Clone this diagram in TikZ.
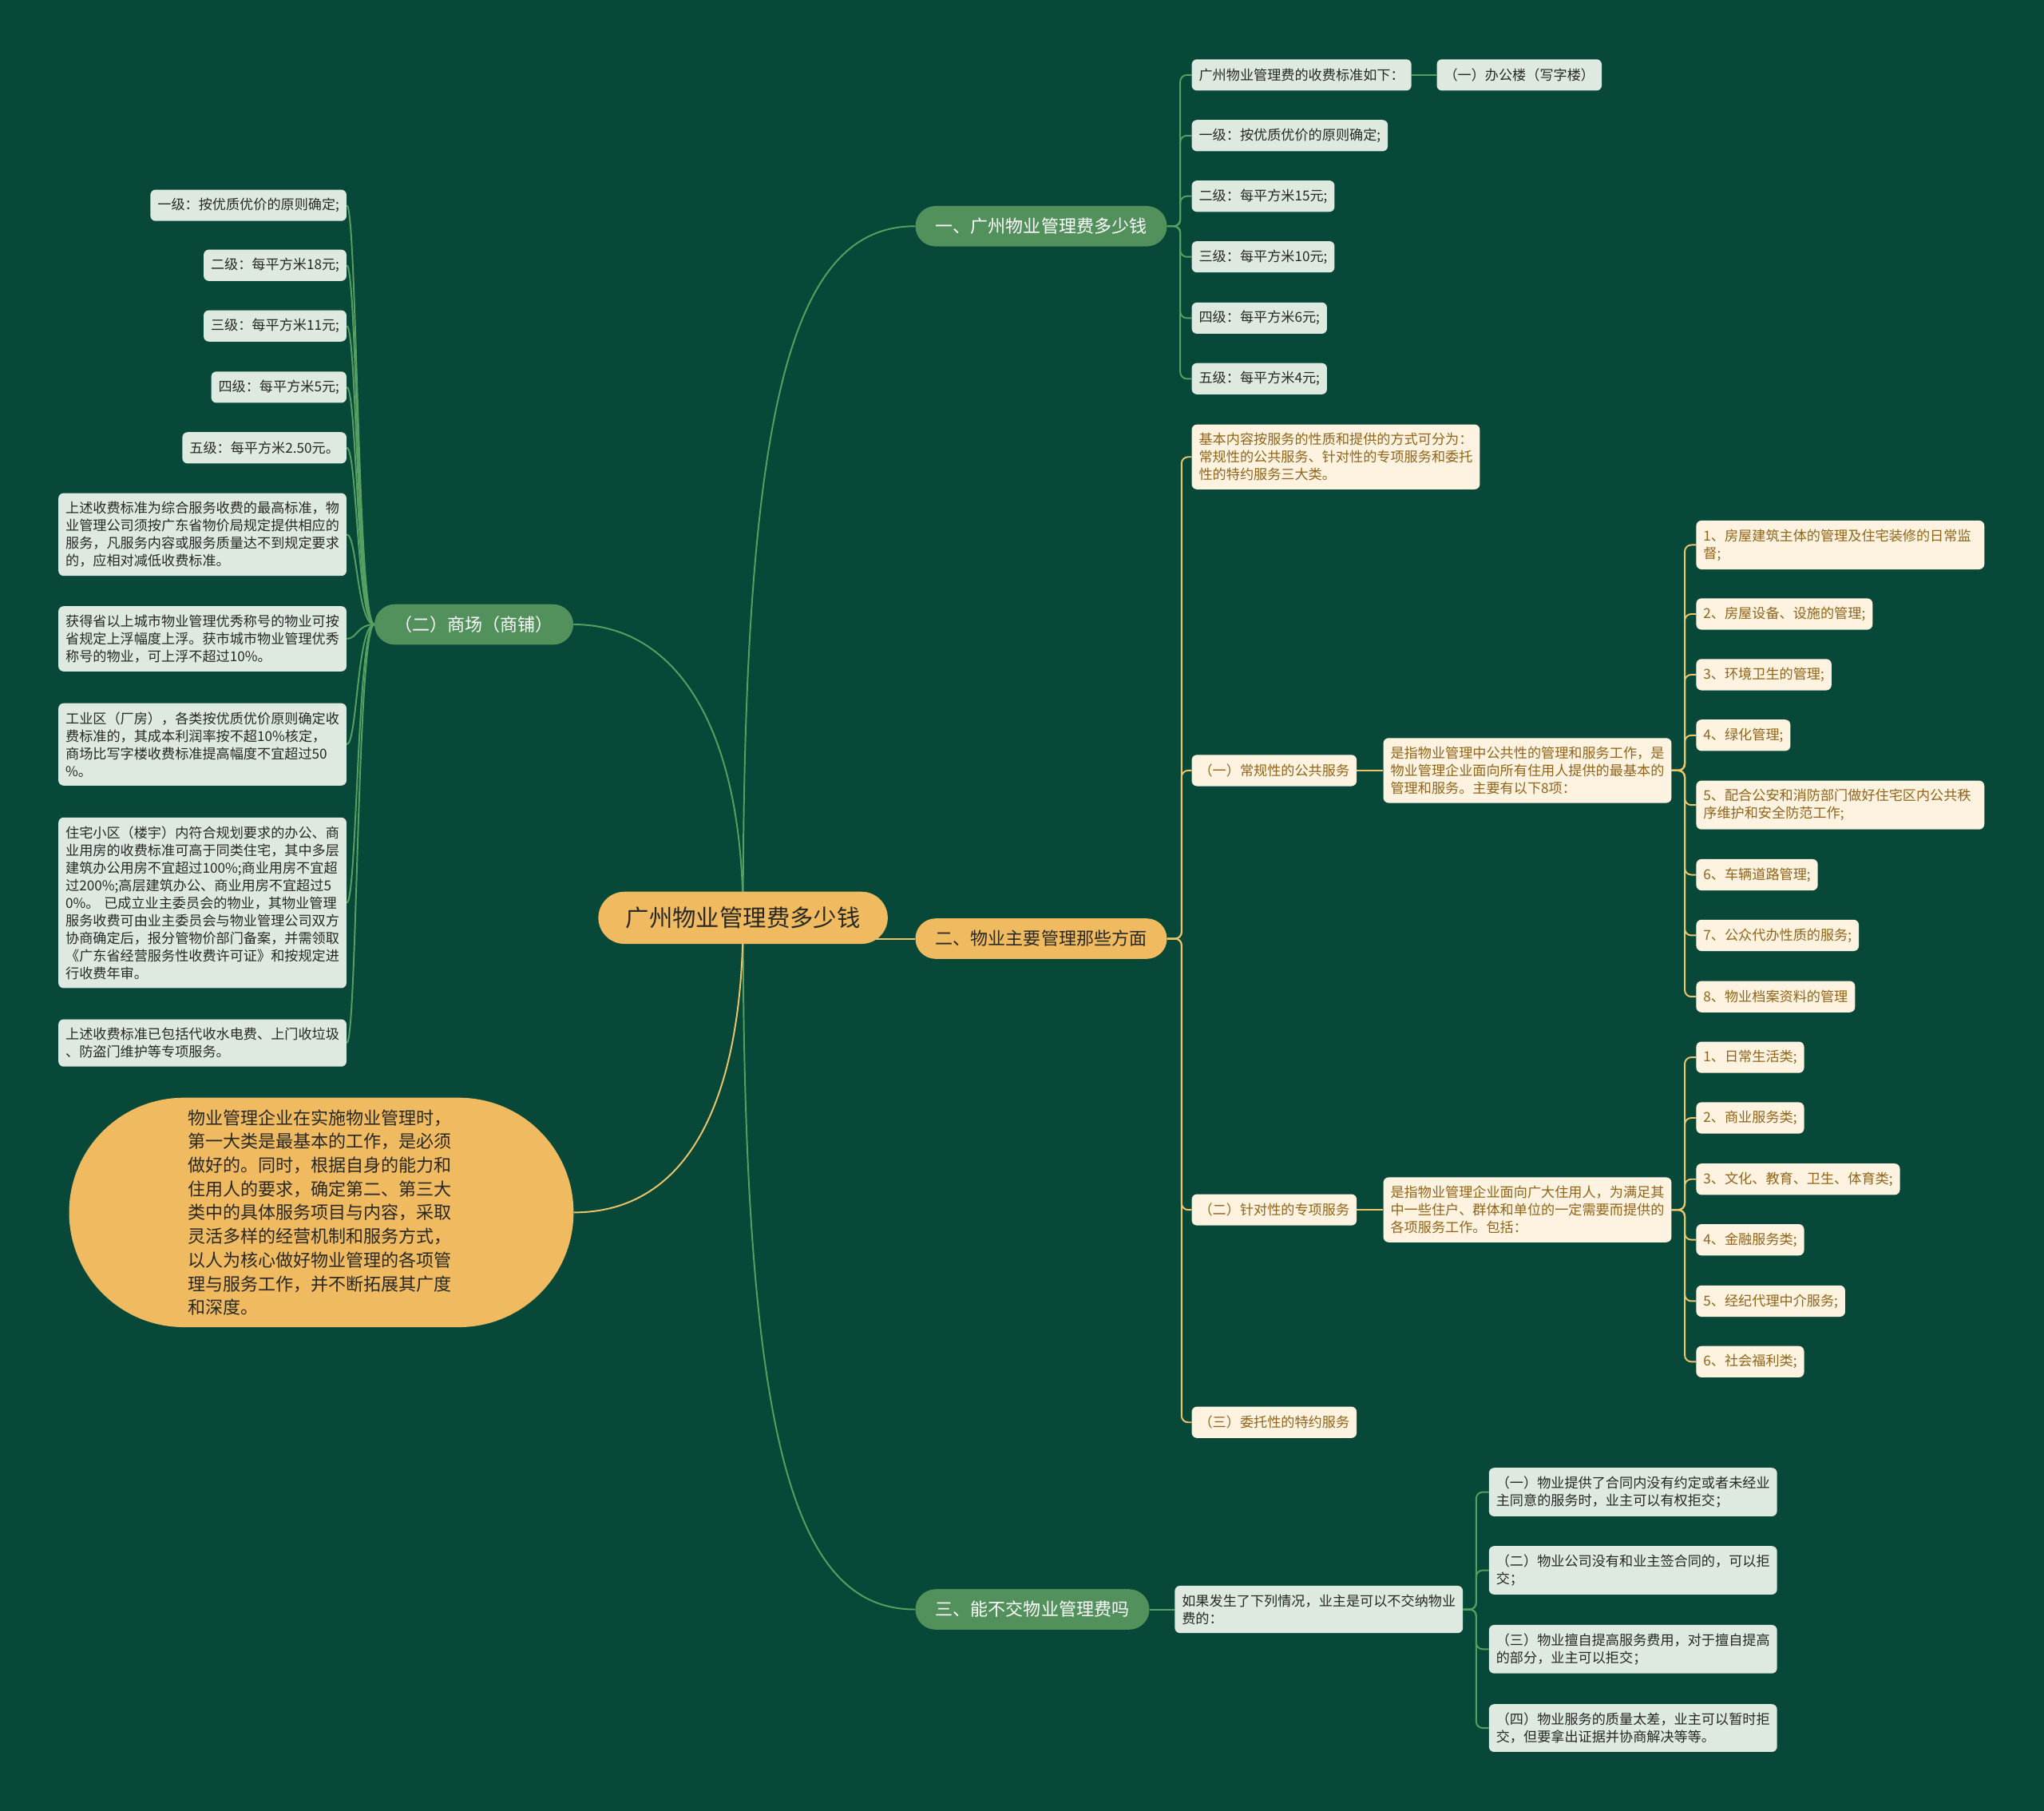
\documentclass[tikz,border=0pt]{standalone}
\usepackage{fontspec}
\setmainfont{Noto Sans CJK SC}

\definecolor{sfondo}{RGB}{7,72,56}
\definecolor{verdepill}{RGB}{82,145,92}
\definecolor{lineaverde}{RGB}{88,158,98}
\definecolor{arancio}{RGB}{240,186,96}
\definecolor{lineaarancio}{RGB}{236,196,108}
\definecolor{grigioch}{RGB}{222,234,224}
\definecolor{crema}{RGB}{253,243,224}
\definecolor{marrone}{RGB}{145,100,25}
\definecolor{testoscuro}{RGB}{40,40,36}

\pgfdeclarelayer{fondo}
\pgfdeclarelayer{linee}
\pgfsetlayers{fondo,linee,main}

\begin{document}
\begin{tikzpicture}[
  x=1pt, y=-1pt,
  radice/.style={fill=arancio, text=testoscuro, rounded corners=20pt,
    minimum width=222pt, minimum height=40pt, font=\fontsize{18}{22}\selectfont},
  ramoverde/.style={fill=verdepill, text=white, rounded corners=15.5pt,
    minimum height=31pt, inner xsep=15.5pt, font=\fontsize{13.5}{16}\selectfont},
  ramoarancio/.style={ramoverde, fill=arancio, text=testoscuro},
  foglia/.style={fill=grigioch, text=testoscuro, rounded corners=4pt,
    minimum height=24pt, inner xsep=5.5pt, inner ysep=6.5pt, align=left,
    font=\fontsize{10.5}{13.5}\selectfont},
  fogliacrema/.style={foglia, fill=crema, text=marrone},
  largo/.style={text width=210pt},
  filoverde/.style={draw=lineaverde, line width=1.2pt},
  filoarancio/.style={draw=lineaarancio, line width=1.2pt}
]

%--------------------------------------------------------------
% Sfondo
%--------------------------------------------------------------
\begin{pgfonlayer}{fondo}
  \fill[sfondo] (0,0) rectangle (1568,1389);
\end{pgfonlayer}
\useasboundingbox (0,0) rectangle (1568,1389);

%--------------------------------------------------------------
% Nodo centrale e rami principali
%--------------------------------------------------------------
\node[radice] (radice) at (570,704) {广州物业管理费多少钱};

\node[ramoverde, anchor=west] (ra) at (702,173.5) {一、广州物业管理费多少钱};
\node[ramoarancio, anchor=west] (rb) at (702,720) {二、物业主要管理那些方面};
\node[ramoverde, anchor=west] (rc) at (702,1234.5) {三、能不交物业管理费吗};
\node[ramoverde, anchor=east] (rd) at (440,479) {（二）商场（商铺）};

\node[fill=arancio, text=testoscuro, rounded corners=88pt, minimum width=387pt,
      minimum height=176pt, text width=205pt, align=left,
      font=\fontsize{13.5}{18.2}\selectfont] (re) at (246.5,930)
  {物业管理企业在实施物业管理时，\\第一大类是最基本的工作，是必须\\做好的。同时，根据自身的能力和\\
   住用人的要求，确定第二、第三大\\类中的具体服务项目与内容，采取\\灵活多样的经营机制和服务方式，\\
   以人为核心做好物业管理的各项管\\理与服务工作，并不断拓展其广度\\和深度。};

%--------------------------------------------------------------
% Ramo uno:收费标准
%--------------------------------------------------------------
\node[foglia, anchor=west] (a0) at (914,57.5) {广州物业管理费的收费标准如下：};
\node[foglia, anchor=west] (a0x) at (1102,57.5) {（一）办公楼（写字楼）};
\node[foglia, anchor=west] (a1) at (914,104) {一级：按优质优价的原则确定;};
\node[foglia, anchor=west] (a2) at (914,150.5) {二级：每平方米15元;};
\node[foglia, anchor=west] (a3) at (914,197) {三级：每平方米10元;};
\node[foglia, anchor=west] (a4) at (914,244) {四级：每平方米6元;};
\node[foglia, anchor=west] (a5) at (914,290.5) {五级：每平方米4元;};

%--------------------------------------------------------------
%商场（商铺）: foglie a sinistra
%--------------------------------------------------------------
\node[foglia, anchor=east] (m1) at (266,157.5) {一级：按优质优价的原则确定;};
\node[foglia, anchor=east] (m2) at (266,203.5) {二级：每平方米18元;};
\node[foglia, anchor=east] (m3) at (266,250) {三级：每平方米11元;};
\node[foglia, anchor=east] (m4) at (266,297) {四级：每平方米5元;};
\node[foglia, anchor=east] (m5) at (266,343.5) {五级：每平方米2.50元。};
\node[foglia, largo, anchor=east] (m6) at (266,410)
  {上述收费标准为综合服务收费的最高标准，物\\业管理公司须按广东省物价局规定提供相应的\\
   服务，凡服务内容或服务质量达不到规定要求\\的，应相对减低收费标准。};
\node[foglia, largo, anchor=east] (m7) at (266,490)
  {获得省以上城市物业管理优秀称号的物业可按\\省规定上浮幅度上浮。获市城市物业管理优秀\\
   称号的物业，可上浮不超过10\%。};
\node[foglia, largo, anchor=east] (m8) at (266,571)
  {工业区（厂房），各类按优质优价原则确定收\\费标准的，其成本利润率按不超10\%核定，\\
   商场比写字楼收费标准提高幅度不宜超过50\\\%。};
\node[foglia, largo, anchor=east] (m9) at (266,692.5)
  {住宅小区（楼宇）内符合规划要求的办公、商\\业用房的收费标准可高于同类住宅，其中多层\\
   建筑办公用房不宜超过100\%;商业用房不宜超\\过200\%;高层建筑办公、商业用房不宜超过5\\
   0\%。 已成立业主委员会的物业，其物业管理\\服务收费可由业主委员会与物业管理公司双方\\
   协商确定后，报分管物价部门备案，并需领取\\《广东省经营服务性收费许可证》和按规定进\\行收费年审。};
\node[foglia, largo, anchor=east] (m10) at (266,800)
  {上述收费标准已包括代收水电费、上门收垃圾\\、防盗门维护等专项服务。};

%--------------------------------------------------------------
% Ramo due: 管理方面
%--------------------------------------------------------------
\node[fogliacrema, largo, anchor=west] (b0) at (914,350.5)
  {基本内容按服务的性质和提供的方式可分为：\\常规性的公共服务、针对性的专项服务和委托\\性的特约服务三大类。};
\node[fogliacrema, anchor=west] (b1) at (914,591) {（一）常规性的公共服务};
\node[fogliacrema, anchor=west] (b2) at (914,928) {（二）针对性的专项服务};
\node[fogliacrema, anchor=west] (b3) at (914,1091) {（三）委托性的特约服务};

\node[fogliacrema, largo, anchor=west] (b1c) at (1061,591)
  {是指物业管理中公共性的管理和服务工作，是\\物业管理企业面向所有住用人提供的最基本的\\管理和服务。主要有以下8项：};
\node[fogliacrema, largo, anchor=west] (b2c) at (1061,928)
  {是指物业管理企业面向广大住用人，为满足其\\中一些住户、群体和单位的一定需要而提供的\\各项服务工作。包括：};

\node[fogliacrema, largo, anchor=west] (g1) at (1301,418)
  {1、房屋建筑主体的管理及住宅装修的日常监\\督;};
\node[fogliacrema, anchor=west] (g2) at (1301,471) {2、房屋设备、设施的管理;};
\node[fogliacrema, anchor=west] (g3) at (1301,517.5) {3、环境卫生的管理;};
\node[fogliacrema, anchor=west] (g4) at (1301,564) {4、绿化管理;};
\node[fogliacrema, largo, anchor=west] (g5) at (1301,617.5)
  {5、配合公安和消防部门做好住宅区内公共秩\\序维护和安全防范工作;};
\node[fogliacrema, anchor=west] (g6) at (1301,671) {6、车辆道路管理;};
\node[fogliacrema, anchor=west] (g7) at (1301,717.5) {7、公众代办性质的服务;};
\node[fogliacrema, anchor=west] (g8) at (1301,764.5) {8、物业档案资料的管理};

\node[fogliacrema, anchor=west] (s1) at (1301,811) {1、日常生活类;};
\node[fogliacrema, anchor=west] (s2) at (1301,857.5) {2、商业服务类;};
\node[fogliacrema, anchor=west] (s3) at (1301,904.5) {3、文化、教育、卫生、体育类;};
\node[fogliacrema, anchor=west] (s4) at (1301,951) {4、金融服务类;};
\node[fogliacrema, anchor=west] (s5) at (1301,998) {5、经纪代理中介服务;};
\node[fogliacrema, anchor=west] (s6) at (1301,1044.5) {6、社会福利类;};

%--------------------------------------------------------------
% Ramo tre: 不交物业费
%--------------------------------------------------------------
\node[foglia, largo, anchor=west] (c0) at (901,1234.5)
  {如果发生了下列情况，业主是可以不交纳物业\\费的：};
\node[foglia, largo, anchor=west] (k1) at (1142,1144.5)
  {（一）物业提供了合同内没有约定或者未经业\\主同意的服务时，业主可以有权拒交；};
\node[foglia, largo, anchor=west] (k2) at (1142,1204.5)
  {（二）物业公司没有和业主签合同的，可以拒\\交；};
\node[foglia, largo, anchor=west] (k3) at (1142,1265)
  {（三）物业擅自提高服务费用，对于擅自提高\\的部分，业主可以拒交；};
\node[foglia, largo, anchor=west] (k4) at (1142,1325.5)
  {（四）物业服务的质量太差，业主可以暂时拒\\交，但要拿出证据并协商解决等等。};

%--------------------------------------------------------------
% Collegamenti
%--------------------------------------------------------------
\begin{pgfonlayer}{linee}
  \draw[filoverde] (radice.center) .. controls (570,300) and (610,173.5) .. (ra.west);
  \draw[filoarancio] (radice.center |- rb.west) -- (rb.west);
  \draw[filoverde] (radice.center) .. controls (570,1110) and (610,1234.5) .. (rc.west);
  \draw[filoverde] (radice.center) .. controls (570,560) and (520,479) .. (rd.east);
  \draw[filoarancio] (radice.center) .. controls (570,840) and (530,930) .. (re.east);

  \foreach \f in {a0,a1,a2,a3,a4,a5}
    \draw[filoverde, rounded corners=5pt] (ra.east) -- ++(10,0) |- (\f.west);
  \draw[filoverde] (a0.east) -- (a0x.west);

  \foreach \f/\yy in {m1/157.5, m2/203.5, m3/250, m4/297, m5/343.5,
                      m6/410, m7/490, m8/571, m9/692.5, m10/800}
    \draw[filoverde] (rd.west) .. controls (274,479) and (274,\yy) .. (\f.east);

  \foreach \f in {b0,b1,b2,b3}
    \draw[filoarancio, rounded corners=5pt] (rb.east) -- ++(11,0) |- (\f.west);
  \draw[filoarancio] (b1.east) -- (b1c.west);
  \draw[filoarancio] (b2.east) -- (b2c.west);
  \foreach \f in {g1,g2,g3,g4,g5,g6,g7,g8}
    \draw[filoarancio, rounded corners=5pt] (b1c.east) -- ++(10,0) |- (\f.west);
  \foreach \f in {s1,s2,s3,s4,s5,s6}
    \draw[filoarancio, rounded corners=5pt] (b2c.east) -- ++(10,0) |- (\f.west);

  \draw[filoverde] (rc.east) -- (c0.west);
  \foreach \f in {k1,k2,k3,k4}
    \draw[filoverde, rounded corners=5pt] (c0.east) -- ++(10,0) |- (\f.west);
\end{pgfonlayer}

\end{tikzpicture}
\end{document}
